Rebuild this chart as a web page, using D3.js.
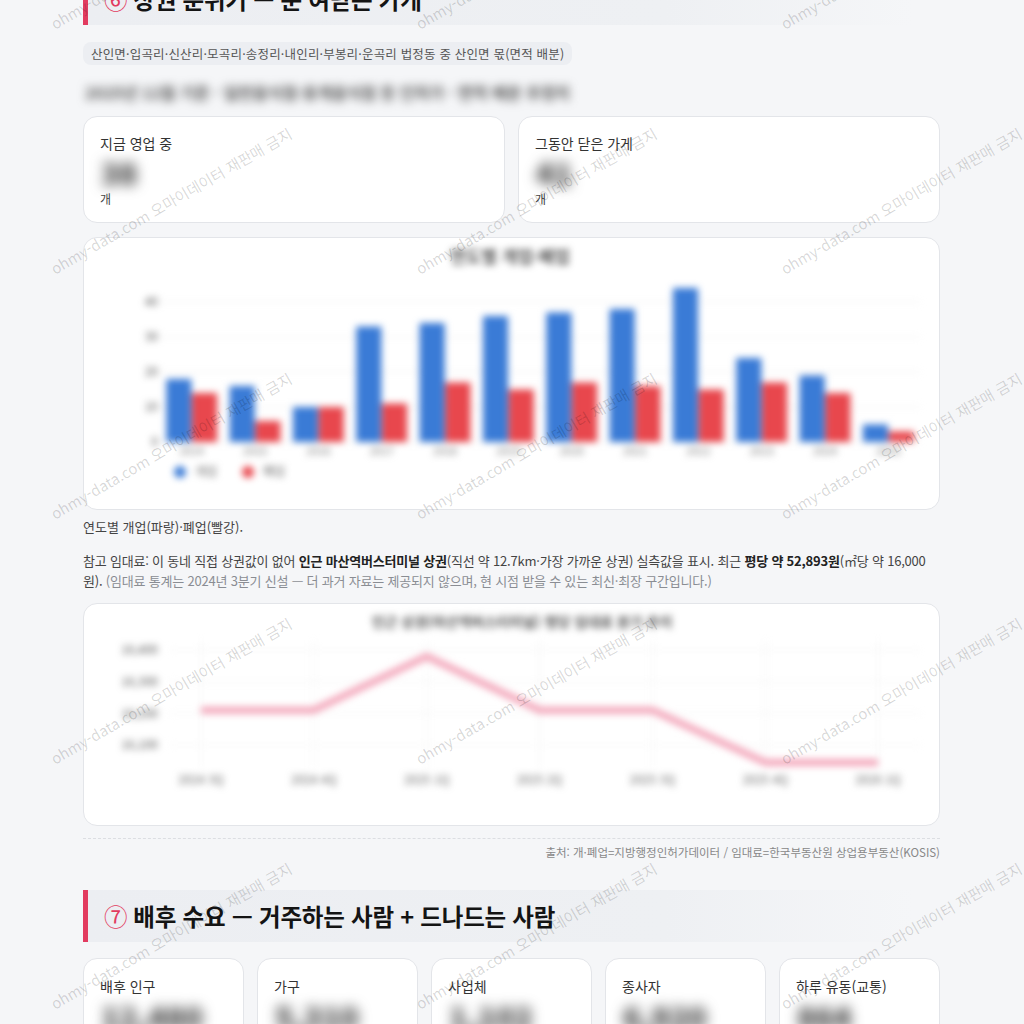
<!DOCTYPE html>
<html lang="ko">
<head>
<meta charset="utf-8">
<script src="https://cdn.jsdelivr.net/npm/d3@7"></script>
<style>
  html,body{margin:0;padding:0}
  body{background:#f5f6f8;font-family:"Noto Sans CJK KR","Noto Sans",sans-serif;color:#333;width:1024px;height:1024px;overflow:hidden;position:relative}
  .abs{position:absolute}
  .head{left:83px;width:830px;height:52px;border-left:5px solid #e23b5f;box-sizing:border-box;
        background:linear-gradient(90deg,#eceef2 0%,#eef0f3 70%,rgba(245,246,248,0) 100%)}
  .head .t{position:absolute;left:16px;top:0;line-height:52px;font-size:23.5px;font-weight:700;color:#141414;white-space:nowrap;letter-spacing:-0.2px}
  .head .n{color:#e23b5f;font-weight:400;margin-right:6px}
  .card{background:#fff;border:1px solid #e3e5e9;border-radius:14px;box-sizing:border-box}
  .lbl{font-size:14px;color:#333;white-space:nowrap}
  .big{font-size:30px;font-weight:800;color:#3a3a3a;white-space:nowrap;filter:blur(6.5px)}
  svg text{font-family:"Noto Sans CJK KR","Noto Sans",sans-serif}
</style>
</head>
<body>
<script>
// ---------------- data ----------------
const years = ["2014","2015","2016","2017","2018","2019","2020","2021","2022","2023","2024","2025"];
const openCounts  = [18,16,10,33,34,36,37,38,44,24,19,5];
const closeCounts = [14, 6,10,11,17,15,17,16,15,17,14,3];
const barTicks = [0,10,20,30,40];
const barSeries = ["개업","폐업"];

const quarters = ["2024 3Q","2024 4Q","2025 1Q","2025 2Q","2025 3Q","2025 4Q","2026 1Q"];
const rentValues = [16210,16210,16380,16210,16210,16045,16045];
const rentTicks = [16100,16200,16300,16400];

const topCards = ["지금 영업 중","그동안 닫은 가게"];
const topCardValues = ["38","41"];
const demandCards = ["배후 인구","가구","사업체","종사자","하루 유동(교통)"];
const demandValues = ["12,480","5,310","1,102","6,920","864"];

// ---------------- page ----------------
const body = d3.select("body");
const C_BLUE = "#3a7bd6", C_RED = "#e8474d";

function heading(top, num, txt){
  const h = body.append("div").attr("class","abs head").style("top", top+"px");
  const t = h.append("div").attr("class","t");
  t.append("span").attr("class","n").text(num);
  t.append("span").text(txt);
}
heading(-27, "⑥", "상권 분위기 — 문 여닫는 가게");

body.append("div").attr("class","abs")
  .style("left","83px").style("top","42px").style("height","23px").style("line-height","23px")
  .style("padding","0 8px").style("background","#eceef2").style("border-radius","8px")
  .style("font-size","12.5px").style("letter-spacing","0.18px").style("color","#555").style("white-space","nowrap")
  .text("산인면·입곡리·신산리·모곡리·송정리·내인리·부봉리·운곡리 법정동 중 산인면 몫(면적 배분)");

body.append("div").attr("class","abs")
  .style("left","85px").style("top","81px").style("line-height","22px").style("filter","blur(5px)")
  .style("font-size","16px").style("font-weight","700").style("color","#555").style("white-space","nowrap")
  .text("2025년 12월 기준 · 일반음식점·휴게음식점 등 인허가 · 면적 배분 추정치");

// top cards
topCards.forEach((name,i)=>{
  const c = body.append("div").attr("class","abs card")
    .style("left",(83+i*435)+"px").style("top","116px").style("width","422px").style("height","107px");
  c.append("div").attr("class","abs lbl").style("left","16px").style("top","16px").style("line-height","20px").text(name);
  c.append("div").attr("class","abs big").style("left","17px").style("top","36px").style("line-height","38px").text(topCardValues[i]);
  c.append("div").attr("class","abs").style("left","16px").style("top","72px").style("line-height","20px")
    .style("font-size","12px").style("color","#444").text("개");
});

// ---------------- bar chart ----------------
const bc = body.append("div").attr("class","abs card")
  .style("left","83px").style("top","237px").style("width","857px").style("height","273px");
const bsvg = bc.append("svg").attr("width",857).attr("height",273)
  .style("position","absolute").style("left","-1px").style("top","-1px").style("filter","blur(3.5px)");
const bg = bsvg.append("g").attr("transform","translate(-83,-237)");

const x0 = d3.scaleBand().domain(years).range([160,920]).paddingInner(0.18).paddingOuter(0.09);
const x1 = d3.scaleBand().domain(barSeries).range([0,x0.bandwidth()]).padding(0.02);
const yb = d3.scaleLinear().domain([0,40]).range([442,302]);

bg.append("g").selectAll("line").data(barTicks).join("line")
  .attr("x1",160).attr("x2",920).attr("y1",d=>yb(d)).attr("y2",d=>yb(d))
  .attr("stroke","#ebebeb").attr("stroke-width",1);
bg.append("g").selectAll("text").data(barTicks).join("text")
  .attr("x",158).attr("y",d=>yb(d)).attr("dy","0.35em").attr("text-anchor","end")
  .attr("font-size",12).attr("fill","#555").text(d=>d);
bg.append("g").selectAll("text").data(years).join("text")
  .attr("x",d=>x0(d)+x0.bandwidth()/2).attr("y",455).attr("text-anchor","middle")
  .attr("font-size",11).attr("fill","#777").text(d=>d);

const groups = bg.append("g").selectAll("g").data(years).join("g")
  .attr("transform",d=>`translate(${x0(d)},0)`);
groups.selectAll("rect").data((d,i)=>[{k:"개업",v:openCounts[i]},{k:"폐업",v:closeCounts[i]}]).join("rect")
  .attr("x",d=>x1(d.k)).attr("width",x1.bandwidth())
  .attr("y",d=>yb(d.v)).attr("height",d=>yb(0)-yb(d.v))
  .attr("fill",d=>d.k==="개업"?C_BLUE:C_RED);

bg.append("text").attr("x",510).attr("y",257).attr("dy","0.35em").attr("text-anchor","middle")
  .attr("font-size",17).attr("font-weight",700).attr("fill","#555").text("연도별 개업·폐업");

const leg = bg.append("g").selectAll("g").data(barSeries).join("g")
  .attr("transform",(d,i)=>`translate(${180+i*68},472)`);
leg.append("circle").attr("r",6).attr("fill",(d,i)=>i?C_RED:C_BLUE);
leg.append("text").attr("x",15).attr("dy","0.35em").attr("font-size",12).attr("fill","#666").text(d=>d);

// captions
body.append("div").attr("class","abs").style("left","83px").style("top","517px").style("line-height","20px")
  .style("font-size","13px").style("color","#444").text("연도별 개업(파랑)·폐업(빨강).");

const para = body.append("div").attr("class","abs").style("left","83px").style("top","551px")
  .style("width","848px").style("line-height","20px").style("font-size","13px").style("letter-spacing","-0.2px").style("color","#444");
para.append("span").text("참고 임대료: 이 동네 직접 상권값이 없어 ");
para.append("b").style("color","#222").text("인근 마산역버스터미널 상권");
para.append("span").text("(직선 약 12.7km·가장 가까운 상권) 실측값을 표시. 최근 ");
para.append("b").style("color","#222").text("평당 약 52,893원");
para.append("span").text("(㎡당 약 16,000원). ");
para.append("span").style("color","#8a8d93").text("(임대료 통계는 2024년 3분기 신설 — 더 과거 자료는 제공되지 않으며, 현 시점 받을 수 있는 최신·최장 구간입니다.)");

// ---------------- line chart ----------------
const lc = body.append("div").attr("class","abs card")
  .style("left","83px").style("top","603px").style("width","857px").style("height","223px");
const lsvg = lc.append("svg").attr("width",857).attr("height",223)
  .style("position","absolute").style("left","-1px").style("top","-1px").style("filter","blur(3.5px)");
const lg = lsvg.append("g").attr("transform","translate(-83,-603)");

const xp = d3.scalePoint().domain(quarters).range([201,878]);
const yl = d3.scaleLinear().domain([16100,16400]).range([745,650]);
const fmt = d3.format(",");

lg.append("g").selectAll("line").data(rentTicks).join("line")
  .attr("x1",170).attr("x2",920).attr("y1",d=>yl(d)).attr("y2",d=>yl(d))
  .attr("stroke","#f0f0f0");
lg.append("g").selectAll("line").data(quarters).join("line")
  .attr("x1",d=>xp(d)).attr("x2",d=>xp(d)).attr("y1",640).attr("y2",768)
  .attr("stroke","#f0f0f0");
lg.append("g").selectAll("text").data(rentTicks).join("text")
  .attr("x",158).attr("y",d=>yl(d)).attr("dy","0.35em").attr("text-anchor","end")
  .attr("font-size",12).attr("fill","#555").text(d=>fmt(d));
lg.append("g").selectAll("text").data(quarters).join("text")
  .attr("x",d=>xp(d)).attr("y",780).attr("dy","0.35em").attr("text-anchor","middle")
  .attr("font-size",12).attr("fill","#666").text(d=>d);
lg.append("path").datum(rentValues)
  .attr("d",d3.line().x((d,i)=>xp(quarters[i])).y(d=>yl(d)))
  .attr("fill","none").attr("stroke","#f3a6ba").attr("stroke-width",7).attr("stroke-linejoin","round");
lg.append("text").attr("x",522).attr("y",622).attr("dy","0.35em").attr("text-anchor","middle")
  .attr("font-size",14).attr("font-weight",700).attr("fill","#555")
  .text("인근 상권(마산역버스터미널) 평당 임대료 분기 추이");

// separator + source
body.append("div").attr("class","abs").style("left","83px").style("top","838px").style("width","857px")
  .style("border-top","1px dashed #dcdee2");
body.append("div").attr("class","abs").style("left","83px").style("top","842px").style("width","857px")
  .style("text-align","right").style("line-height","20px").style("font-size","11.5px").style("color","#888")
  .text("출처: 개·폐업=지방행정인허가데이터 / 임대료=한국부동산원 상업용부동산(KOSIS)");

// ---------------- section 7 ----------------
heading(890, "⑦", "배후 수요 — 거주하는 사람 + 드나드는 사람");

demandCards.forEach((name,i)=>{
  const c = body.append("div").attr("class","abs card")
    .style("left",(83+i*174)+"px").style("top","958px").style("width","161px").style("height","120px");
  c.append("div").attr("class","abs lbl").style("left","16px").style("top","17px").style("line-height","20px").text(name);
  c.append("div").attr("class","abs big").style("left","17px").style("top","38px").style("line-height","38px").text(demandValues[i]);
});

// ---------------- watermark ----------------
const wm = body.append("svg").attr("class","abs").attr("width",1024).attr("height",1024)
  .style("left","0px").style("top","0px").style("pointer-events","none");
const wpos = [];
for(let j=0;j<5;j++) for(let i=0;i<3;i++) wpos.push([55+365*i, 30+245*j]);
wm.selectAll("text").data(wpos).join("text")
  .attr("transform",d=>`translate(${d[0]},${d[1]}) rotate(-30)`)
  .attr("font-size",15).attr("fill","rgba(0,0,0,0.16)")
  .text("ohmy-data.com 오마이데이터 재판매 금지");
</script>
</body>
</html>
